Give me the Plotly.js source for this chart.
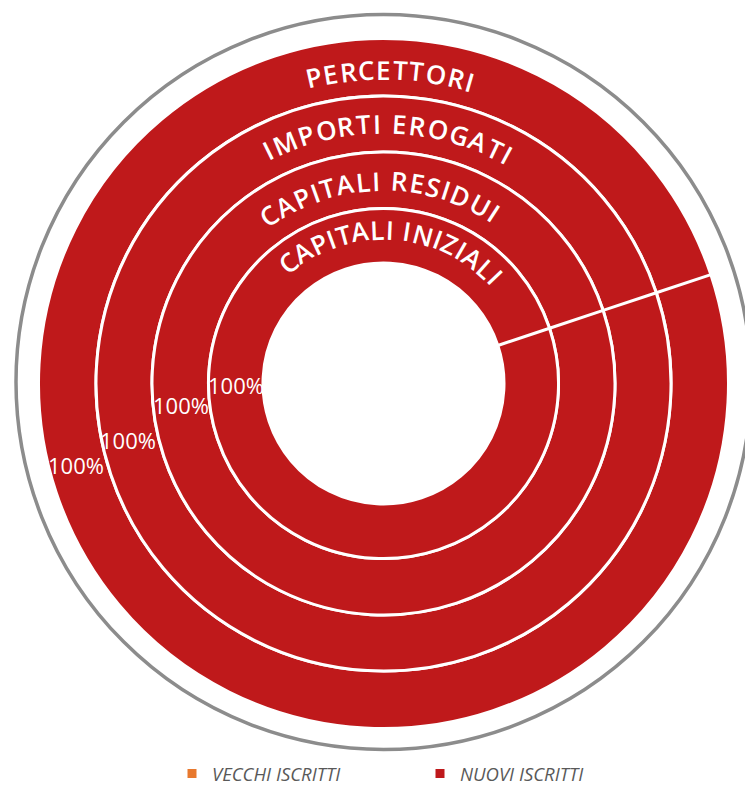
<!DOCTYPE html>
<html>
<head>
<meta charset="utf-8">
<script src="https://cdn.plot.ly/plotly-3.0.1.min.js"></script>
<style>html,body{margin:0;padding:0;background:#fff;}#chart{width:745px;height:789px;}</style>
</head>
<body>
<div id="chart"></div>
<script>
// ---- data ----
const rings = ['PERCETTORI', 'IMPORTI EROGATI', 'CAPITALI RESIDUI', 'CAPITALI INIZIALI'];
const groups = ['VECCHI ISCRITTI', 'NUOVI ISCRITTI'];
const vecchi = [0, 0, 0, 0];
const nuovi = [100, 100, 100, 100];

// ---- layout / style ----
const W = 745, H = 789;
const cx = 383.5, cy = 383.5;
const colors = ['#E8792E', '#BF191B'];
const outerR = [345, 287.5, 231.5, 175];
const innerR = [287.5, 231.5, 175, 120.5];
// curved ring titles: radius, angle of first and last character centre (deg, clockwise from top)
const titleArc = [[314, -12.8, 16.0], [260, -26.3, 28.4], [203, -34.5, 32.9], [154, -38.5, 46.5]];
// percent label positions (px)
const pctPos = [[76, 465], [128, 440], [181, 405], [236, 385]];

const fontFam = '"Open Sans", "DejaVu Sans", sans-serif';
const titleSize = 26;
const titleWeight = 600;

const traces = rings.map((name, i) => {
  const R = outerR[i];
  return {
    type: 'pie',
    name: name,
    labels: groups,
    values: [vecchi[i], nuovi[i]],
    marker: {colors: colors, line: {color: '#ffffff', width: 3}},
    hole: innerR[i] / R,
    domain: {x: [(cx - R) / W, (cx + R) / W], y: [(H - cy - R) / H, (H - cy + R) / H]},
    rotation: 71.6,
    sort: true,
    textinfo: 'none',
    hovertemplate: name + '<br>%{label}: %{percent}<extra></extra>'
  };
});

const annotations = [];
const ctx = document.createElement('canvas').getContext('2d');
ctx.font = titleWeight + ' ' + titleSize + 'px "Open Sans"';
rings.forEach((label, k) => {
  const [r, a0, a1] = titleArc[k];
  const chars = label.split('');
  const w = chars.map(c => ctx.measureText(c).width);
  const n = chars.length;
  const sumW = w.reduce((s, v) => s + v, 0);
  const arcC = r * (a1 - a0) * Math.PI / 180;
  const s = (arcC - (sumW - w[0] / 2 - w[n - 1] / 2)) / (n - 1);
  let pos = 0;
  const p0 = w[0] / 2;
  chars.forEach((c, i) => {
    const pc = pos + w[i] / 2;
    pos += w[i] + s;
    if (c === ' ') return;
    const th = a0 * Math.PI / 180 + (pc - p0) / r;
    const x = cx + r * Math.sin(th), y = cy - r * Math.cos(th);
    annotations.push({
      x: x / W, y: 1 - y / H, xref: 'paper', yref: 'paper',
      text: c, showarrow: false, xanchor: 'center', yanchor: 'middle',
      textangle: th * 180 / Math.PI, borderpad: 0,
      font: {family: fontFam, size: titleSize, color: '#ffffff', weight: titleWeight}
    });
  });
  const total = vecchi[k] + nuovi[k];
  annotations.push({
    x: pctPos[k][0] / W, y: 1 - pctPos[k][1] / H, xref: 'paper', yref: 'paper',
    text: Math.round(nuovi[k] / total * 100) + '%', showarrow: false,
    xanchor: 'center', yanchor: 'middle', borderpad: 0,
    font: {family: fontFam, size: 22, color: '#ffffff'}
  });
});

const R0 = 367.5, gcy = 382;
const layout = {
  width: W, height: H,
  margin: {l: 0, r: 0, t: 0, b: 0, autoexpand: false},
  paper_bgcolor: '#ffffff',
  showlegend: true,
  legend: {
    orientation: 'h', x: 172 / W, xanchor: 'left', y: -4 / H, yanchor: 'bottom',
    traceorder: 'reversed', entrywidth: 203, entrywidthmode: 'pixels',
    font: {family: fontFam, size: 18.5, color: '#595959', style: 'italic'}
  },
  shapes: [{
    type: 'circle', xref: 'paper', yref: 'paper',
    x0: (cx - R0) / W, x1: (cx + R0) / W, y0: 1 - (gcy + R0) / H, y1: 1 - (gcy - R0) / H,
    line: {color: '#8c8c8c', width: 3.5}, layer: 'below'
  }],
  annotations: annotations
};

Plotly.newPlot('chart', traces, layout, {displayModeBar: false, responsive: false});
</script>
</body>
</html>
